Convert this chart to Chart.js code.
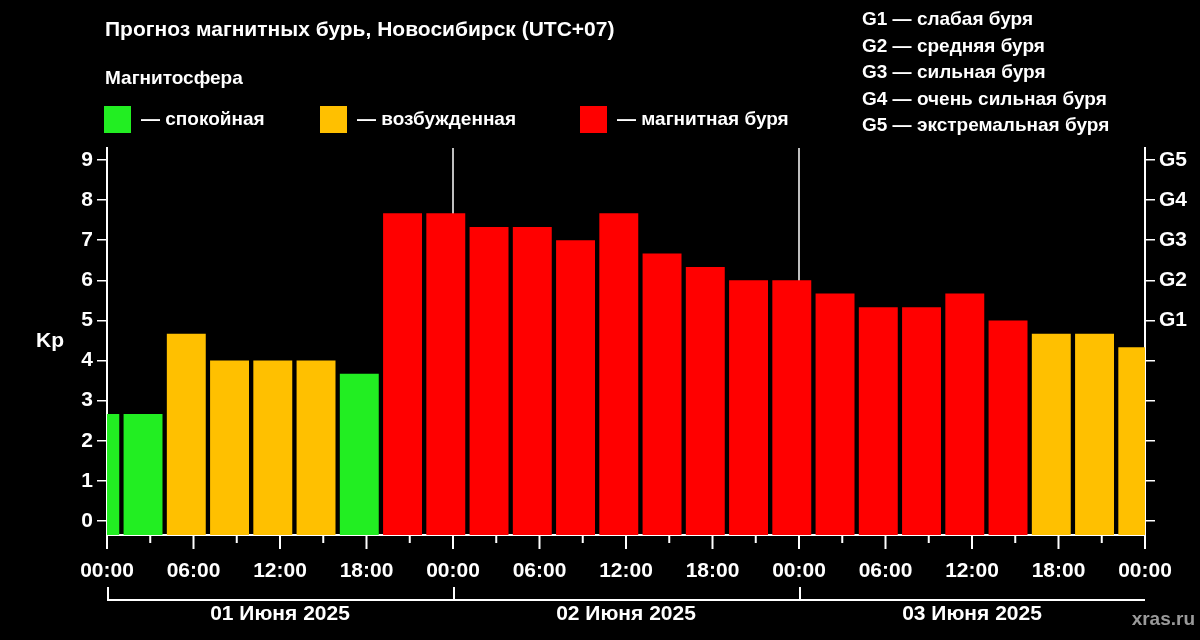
<!DOCTYPE html>
<html><head><meta charset="utf-8">
<script src="https://cdn.jsdelivr.net/npm/chart.js@4"></script>
<style>html,body{margin:0;background:#000;}canvas{display:block}</style>
</head><body>
<div style="width:1200px;height:640px"><canvas id="c"></canvas></div>
<script>
const hours = [-0.5,2.5,5.5,8.5,11.5,14.5,17.5,20.5,23.5,26.5,29.5,32.5,35.5,38.5,41.5,44.5,47.5,50.5,53.5,56.5,59.5,62.5,65.5,68.5,71.5];
const kp = [2.67,2.67,4.67,4,4,4,3.67,7.67,7.67,7.33,7.33,7,7.67,6.67,6.33,6,6,5.67,5.33,5.33,5.67,5,4.67,4.67,4.33];
const gLabels = ['G1','G2','G3','G4','G5'];
const dayLabels = ['01 Июня 2025','02 Июня 2025','03 Июня 2025'];
const legendItems = [['#22ee22','— спокойная'],['#ffc000','— возбужденная'],['#ff0000','— магнитная буря']];
const gText = ['G1 — слабая буря','G2 — средняя буря','G3 — сильная буря','G4 — очень сильная буря','G5 — экстремальная буря'];
const YMIN=-0.35, YMAX=9.3;
const col = v => v>=5?'#ff0000':(v>=4?'#ffc000':'#22ee22');
const F='"Liberation Sans", Arial, sans-serif';
const deco = {id:'deco',
 beforeDatasetsDraw(ch){const {ctx,chartArea:a,scales:{x}}=ch;ctx.save();ctx.strokeStyle='#fff';ctx.lineWidth=1.5;
  [24,48].forEach(h=>{const px=x.getPixelForValue(h);ctx.beginPath();ctx.moveTo(px,a.top);ctx.lineTo(px,a.bottom);ctx.stroke();});ctx.restore();},
 afterDraw(ch){const {ctx,chartArea:a,scales:{x}}=ch;ctx.save();ctx.fillStyle='#fff';ctx.strokeStyle='#fff';ctx.lineWidth=2;
  ctx.font='bold 21px '+F;ctx.textBaseline='middle';ctx.fillText('Прогноз магнитных бурь, Новосибирск (UTC+07)',105,30);
  ctx.font='bold 19px '+F;ctx.fillText('Магнитосфера',105,79);
  const lx=[104,320,580];legendItems.forEach((it,i)=>{ctx.fillStyle=it[0];ctx.fillRect(lx[i],106,27,27);ctx.fillStyle='#fff';ctx.fillText(it[1],lx[i]+37,120);});
  gText.forEach((t,i)=>ctx.fillText(t,862,20+i*26.5));
  ctx.font='bold 21px '+F;ctx.fillText('Kp',36,341);
  // x axis small/long ticks
  for(let h=0;h<=72;h+=3){const px=x.getPixelForValue(h);ctx.beginPath();ctx.moveTo(px,a.bottom);ctx.lineTo(px,a.bottom+(h%6===0?14:8));ctx.stroke();}
  // day brackets
  ctx.font='bold 21px '+F;ctx.textAlign='center';
  for(let d=0;d<3;d++){const x0=x.getPixelForValue(d*24),x1=x.getPixelForValue(d*24+24);
   ctx.beginPath();ctx.moveTo(x0+1,587);ctx.lineTo(x0+1,600);ctx.lineTo(x1,600);ctx.stroke();
   ctx.fillText(dayLabels[d],(x0+x1)/2,614);}
  ctx.textAlign='right';ctx.font='bold 19px '+F;ctx.fillStyle='#9a9a9a';ctx.fillText('xras.ru',1195,620);
  ctx.restore();}
};
new Chart(document.getElementById('c'),{type:'bar',
 data:{datasets:[{data:hours.map((h,i)=>({x:h,y:[YMIN,kp[i]]})),backgroundColor:kp.map(col),borderWidth:0,barPercentage:0.9,categoryPercentage:1}]},
 options:{responsive:true,maintainAspectRatio:false,animation:false,layout:{padding:{top:148,bottom:0,left:0,right:0}},
  plugins:{legend:{display:false},tooltip:{enabled:false}},
  scales:{
   x:{type:'linear',min:0,max:72,offset:false,afterFit(s){s.height=105;},
     border:{color:'#fff',width:2},grid:{display:false},
     ticks:{stepSize:6,color:'#fff',font:{family:F,size:21,weight:'bold'},padding:16,maxRotation:0,autoSkip:false,
       callback:v=>String(v%24).padStart(2,'0')+':00'}},
   y:{min:YMIN,max:YMAX,afterFit(s){s.width=107;},afterBuildTicks(s){s.ticks=[0,1,2,3,4,5,6,7,8,9].map(v=>({value:v}));},
     border:{color:'#fff',width:2},grid:{drawOnChartArea:false,color:'#fff',tickLength:10,lineWidth:1.5},
     ticks:{color:'#fff',font:{family:F,size:21,weight:'bold'},padding:4}},
   y2:{position:'right',min:YMIN,max:YMAX,afterFit(s){s.width=55;},afterBuildTicks(s){s.ticks=[0,1,2,3,4,5,6,7,8,9].map(v=>({value:v}));},
     border:{color:'#fff',width:2},grid:{drawOnChartArea:false,color:'#fff',tickLength:10,lineWidth:1.5},
     ticks:{color:'#fff',font:{family:F,size:21,weight:'bold'},padding:4,callback:v=>v>=5?gLabels[v-5]:''}}
  }},plugins:[deco]});
</script></body></html>
